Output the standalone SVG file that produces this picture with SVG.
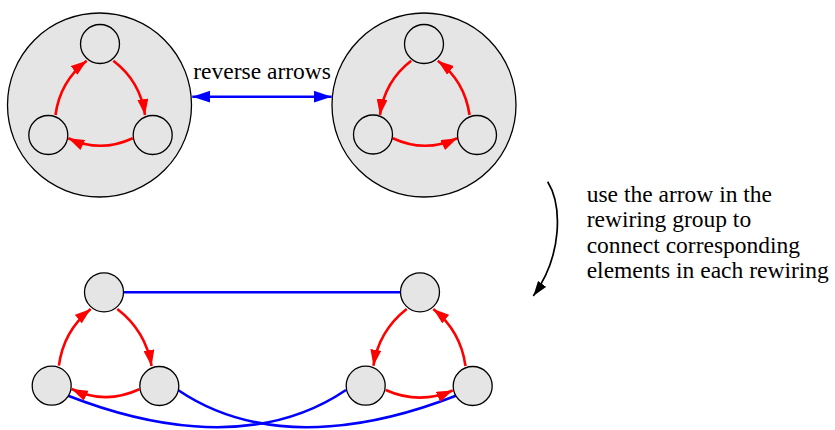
<svg xmlns="http://www.w3.org/2000/svg" width="835" height="430" viewBox="0 0 835 430">
<style>
.grp{fill:#e5e5e5;stroke:#000;stroke-width:1.3}
.node{fill:#e5e5e5;stroke:#000;stroke-width:1.3}
.red{fill:none;stroke:#ff0000;stroke-width:2.6}
.blue{fill:none;stroke:#0000ff;stroke-width:2.6}
.blk{fill:none;stroke:#000;stroke-width:1.7}
.lbl{font-family:"Liberation Serif","Times New Roman",serif;font-size:23.5px;fill:#000}
</style>
<defs>
<marker id="ar" markerUnits="userSpaceOnUse" markerWidth="16" markerHeight="11" refX="16" refY="5.5" orient="auto"><path d="M0,0 L16,5.5 L0,11 z" fill="#ff0000"/></marker>
<marker id="ab" markerUnits="userSpaceOnUse" markerWidth="18" markerHeight="12" refX="18" refY="6" orient="auto-start-reverse"><path d="M0,0 L18,6 L0,12 z" fill="#0000ff"/></marker>
<marker id="ak" markerUnits="userSpaceOnUse" markerWidth="15" markerHeight="10" refX="15" refY="5" orient="auto"><path d="M0,0 L15,5 L0,10 z" fill="#000"/></marker>
</defs>
<g id="group-left"><circle class="grp" cx="99.5" cy="105" r="92"/></g>
<g id="group-right"><circle class="grp" cx="424" cy="105" r="92"/></g>
<g id="connectors">
<path class="blue" d="M192.3,96.7 L331.7,96.7" marker-start="url(#ab)" marker-end="url(#ab)"/>
<path class="blue" d="M123.5,292.3 L400.5,292.3"/>
<path class="blue" d="M67.5,395.5 C130,420 250,455 346,390"/>
<path class="blue" d="M456.5,395.5 C394,420 274,455 178,390"/>
<path class="red" d="M113.3,60.7 Q140.4,81.3 145,115" marker-end="url(#ar)"/>
<path class="red" d="M132.7,138.3 Q100.5,153.3 68.3,138.3" marker-end="url(#ar)"/>
<path class="red" d="M55.5,115 Q60,81.3 86.7,60.7" marker-end="url(#ar)"/>
<path class="red" d="M411.2,60.7 Q384.5,81.3 380,115" marker-end="url(#ar)"/>
<path class="red" d="M392.8,138.3 Q425,153.3 457.2,138.3" marker-end="url(#ar)"/>
<path class="red" d="M469.5,115 Q464.9,81.3 437.8,60.7" marker-end="url(#ar)"/>
<path class="red" d="M117.3,309 Q145.6,330.8 151.6,366" marker-end="url(#ar)"/>
<path class="red" d="M139.3,389.3 Q105.5,405 71.7,389" marker-end="url(#ar)"/>
<path class="red" d="M58.9,365.7 Q63.5,331 90.7,309" marker-end="url(#ar)"/>
<path class="red" d="M406.7,309 Q378.8,330.8 373.4,365.7" marker-end="url(#ar)"/>
<path class="red" d="M385.7,390 Q419.2,405 452.7,390.5" marker-end="url(#ar)"/>
<path class="red" d="M465.5,366 Q460.7,331.1 433.3,309" marker-end="url(#ar)"/>
<path class="blk" d="M547.7,181.7 C562,205 563,255 533.3,296" marker-end="url(#ak)"/>
</g>
<g id="l-top"><circle class="node" cx="100" cy="44" r="19.5"/></g>
<g id="l-bl"><circle class="node" cx="48.3" cy="135" r="19.5"/></g>
<g id="l-br"><circle class="node" cx="152.7" cy="135" r="19.5"/></g>
<g id="r-top"><circle class="node" cx="424" cy="44" r="19.5"/></g>
<g id="r-bl"><circle class="node" cx="373" cy="134.5" r="19.5"/></g>
<g id="r-br"><circle class="node" cx="477" cy="135" r="19.5"/></g>
<g id="bl-top"><circle class="node" cx="104" cy="292.3" r="19.5"/></g>
<g id="bl-bl"><circle class="node" cx="51.7" cy="385.7" r="19.5"/></g>
<g id="bl-br"><circle class="node" cx="159.3" cy="386" r="19.5"/></g>
<g id="br-top"><circle class="node" cx="420" cy="292.3" r="19.5"/></g>
<g id="br-bl"><circle class="node" cx="365.7" cy="385.7" r="19.5"/></g>
<g id="br-br"><circle class="node" cx="472.7" cy="386" r="19.5"/></g>
<g id="labels">
<text class="lbl" x="193.3" y="79.3">reverse arrows</text>
<text class="lbl" x="586.7" y="202">use the arrow in the</text>
<text class="lbl" x="586.7" y="227.3">rewiring group to</text>
<text class="lbl" x="586.7" y="252.6">connect corresponding</text>
<text class="lbl" x="586.7" y="278">elements in each rewiring</text>
</g>
</svg>
